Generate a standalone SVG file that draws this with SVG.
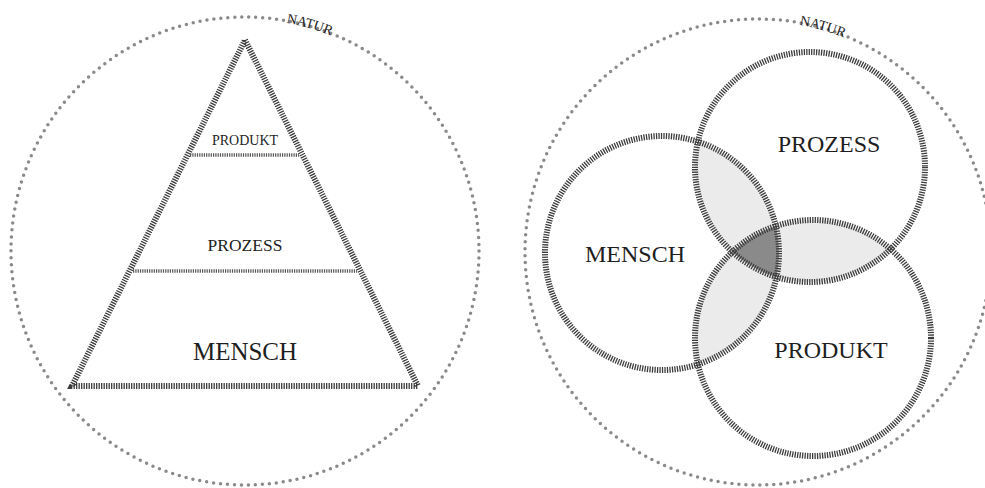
<svg xmlns="http://www.w3.org/2000/svg" width="985" height="488" viewBox="0 0 985 488">
<style>
.dots{fill:none;stroke:#8a8a8a;stroke-width:3.5;stroke-dasharray:0 7;stroke-linecap:round}
.hatch{fill:none;stroke:#3c3c3c;stroke-width:6;stroke-dasharray:1.3 1.2}
.hatchThin{fill:none;stroke:#555;stroke-width:3.5;stroke-dasharray:1.2 1.1}
.t{font-family:"Liberation Serif","Times New Roman",serif;fill:#1e1e1e;text-anchor:middle}
.natur{font-family:"Liberation Serif","Times New Roman",serif;fill:#1e1e1e;font-size:14px}
.lens{fill:#ebebeb}
.tri{fill:#8a8a8a}
</style>
<defs>
<path id="arcL" d="M245,17 A234,234 0 0 1 479,251"/>
<path id="arcR" d="M758,19 A233,233 0 0 1 991,252"/>
<clipPath id="cM"><circle cx="662" cy="253" r="117"/></clipPath>
<clipPath id="cZ"><circle cx="810" cy="167" r="115"/></clipPath>
<clipPath id="cP"><circle cx="813" cy="338" r="118"/></clipPath>
</defs>

<g id="left-natur">
<circle class="dots" cx="245" cy="251" r="234"/>
<text class="natur" dy="2"><textPath href="#arcL" startOffset="42">NATUR</textPath></text>
</g>

<g id="pyramid">
<polygon class="hatch" points="245,40 418,386 72,386"/>
</g>
<g id="pyr-produkt">
<line class="hatchThin" x1="190" y1="155" x2="299" y2="155"/>
<text class="t" x="245" y="145" font-size="14">PRODUKT</text>
</g>
<g id="pyr-prozess">
<line class="hatchThin" x1="133" y1="271" x2="357" y2="271"/>
<text class="t" x="245" y="251" font-size="17.5">PROZESS</text>
</g>
<g id="pyr-mensch">
<text class="t" x="245" y="360" font-size="25">MENSCH</text>
</g>

<g id="right-natur">
<circle class="dots" cx="758" cy="252" r="233"/>
<text class="natur" dy="2"><textPath href="#arcR" startOffset="42">NATUR</textPath></text>
</g>

<g id="overlaps">
<g clip-path="url(#cZ)"><circle class="lens" cx="662" cy="253" r="117"/></g>
<g clip-path="url(#cP)"><circle class="lens" cx="662" cy="253" r="117"/></g>
<g clip-path="url(#cP)"><circle class="lens" cx="810" cy="167" r="115"/></g>
<g clip-path="url(#cP)"><g clip-path="url(#cZ)"><circle class="tri" cx="662" cy="253" r="117"/></g></g>
</g>

<g id="venn-mensch">
<circle class="hatch" cx="662" cy="253" r="117"/>
<text class="t" x="635" y="262" font-size="24">MENSCH</text>
</g>
<g id="venn-prozess">
<circle class="hatch" cx="810" cy="167" r="115"/>
<text class="t" x="829" y="152" font-size="24">PROZESS</text>
</g>
<g id="venn-produkt">
<circle class="hatch" cx="813" cy="338" r="118"/>
<text class="t" x="831" y="358" font-size="24">PRODUKT</text>
</g>
<g id="connectors"/>
</svg>
